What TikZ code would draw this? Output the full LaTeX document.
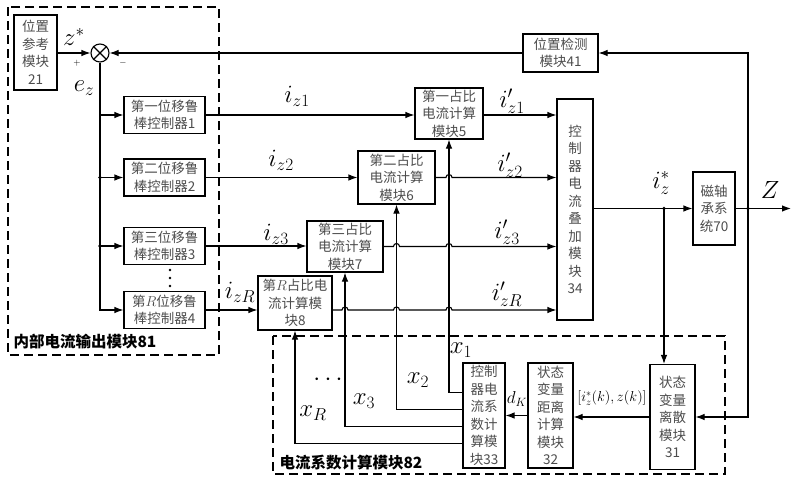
\documentclass[tikz,border=0pt]{standalone}
\usepackage{fontspec}
\newfontfamily\cjk{Noto Sans CJK SC}
\usetikzlibrary{positioning,
                arrows.meta}                % arrow tips

\tikzset{
  blk/.style={draw, line width=1.1pt, inner sep=0pt, align=center, text=black!70,
              font=\cjk\fontsize{13.5}{17.5}\selectfont},
  arr/.style={line width=1.1pt, -{Latex[length=9pt,width=6.5pt]}},
  lnk/.style={line width=1.1pt},
  lbl/.style={font=\fontsize{23}{23}\selectfont},
  frame/.style={line width=1.6pt, dash pattern=on 9pt off 5pt},
  frametitle/.style={anchor=west, font=\cjk\bfseries\fontsize{15.5}{16}\selectfont},
}

\begin{document}
\begin{tikzpicture}[x=1pt, y=-1pt]
  \useasboundingbox (0,0) rectangle (800,482);

  % dashed groups
  \draw[frame] (8,7) rectangle (219,355);
  \draw[frame] (273,336) rectangle (725,474);
  \node[frametitle] (t81) at (10,342) {内部电流输出模块81};
  \node[frametitle] (t82) at (276,463) {电流系数计算模块82};

  % reference and comparison
  \node[blk, minimum width=43pt, minimum height=75pt] (ref21) at (35.5,52.5) {位置\\参考\\模块\\21};
  \node[draw, circle, line width=1.1pt, minimum size=18pt, inner sep=0pt] (sum) at (100,53) {};
  \draw[lnk] (sum.north west) -- (sum.south east) (sum.north east) -- (sum.south west);
  \draw[arr] (ref21.east |- sum) -- (sum.west);
  \node[lbl] (zs) at (74,37) {$z^*$};
  \node[font=\small] (plus) at (77,63) {$+$};
  \node[font=\small] (minus) at (123,63) {$-$};
  \node[lbl] (ez) at (84,88) {$e_z$};

  % displacement controllers
  \node[blk, minimum width=81pt, minimum height=37pt] (ctrl1) at (164.5,115) {第一位移鲁\\棒控制器1};
  \node[blk, minimum width=81pt, minimum height=37pt] (ctrl2) at (164.5,177.5) {第二位移鲁\\棒控制器2};
  \node[blk, minimum width=81pt, minimum height=37pt] (ctrl3) at (164.5,246) {第三位移鲁\\棒控制器3};
  \node[blk, minimum width=81pt, minimum height=37pt] (ctrlR) at (164.5,310) {第$R$位移鲁\\棒控制器4};
  \foreach \y in {270,278,286}
    \fill (170,\y) circle (1.4pt);

  \draw[arr] (sum.south) |- (ctrlR.west);
  \draw[arr] (sum.south |- ctrl1.west) -- (ctrl1.west);
  \draw[arr] (sum.south |- ctrl2.west) -- (ctrl2.west);
  \draw[arr] (sum.south |- ctrl3.west) -- (ctrl3.west);
  \fill (sum.south |- ctrl2.west) circle (1.8pt);
  \fill (sum.south |- ctrl3.west) circle (1.8pt);

  % duty ratio current blocks
  \node[blk, minimum width=68pt, minimum height=51pt] (blk5) at (449,113.5) {第一占比\\电流计算\\模块5};
  \node[blk, minimum width=77pt, minimum height=53pt] (blk6) at (396.5,177.5) {第二占比\\电流计算\\模块6};
  \node[blk, minimum width=76pt, minimum height=51pt] (blk7) at (345,246.5) {第三占比\\电流计算\\模块7};
  \node[blk, minimum width=74pt, minimum height=54pt] (blk8) at (295,303) {第$R$占比电\\流计算模\\块8};

  \draw[arr] (ctrl1.east) -- (ctrl1.east -| blk5.west);
  \draw[arr] (ctrl2.east) -- (ctrl2.east -| blk6.west);
  \draw[arr] (ctrl3.east) -- (ctrl3.east -| blk7.west);
  \draw[arr] (ctrlR.east) -- (ctrlR.east -| blk8.west);
  \node[lbl] (iz1) at (297,96) {$i_{z1}$};
  \node[lbl] (iz2) at (281,160) {$i_{z2}$};
  \node[lbl] (iz3) at (276,234) {$i_{z3}$};
  \node[lbl] (izR) at (240,292) {$i_{zR}$};

  % superposition block
  \node[blk, minimum width=36pt, minimum height=221pt] (b34) at (575,209.5) {控\\制\\器\\电\\流\\叠\\加\\模\\块\\34};

  \draw[arr] (blk5.east |- ctrl1) -- (b34.west |- ctrl1);
  \draw[arr] (blk6.east) -- ([xshift=-3pt]blk5.south |- blk6.east) arc[start angle=180, end angle=0, radius=3pt]
             -- (b34.west |- blk6.east);
  \draw[arr] (blk7.east) -- ([xshift=-3pt]blk6.south |- blk7.east) arc[start angle=180, end angle=0, radius=3pt]
             -- ([xshift=-3pt]blk5.south |- blk7.east) arc[start angle=180, end angle=0, radius=3pt]
             -- (b34.west |- blk7.east);
  \draw[arr] (blk8.east |- ctrlR) -- ([xshift=-3pt]blk7.south |- ctrlR) arc[start angle=180, end angle=0, radius=3pt]
             -- ([xshift=-3pt]blk6.south |- ctrlR) arc[start angle=180, end angle=0, radius=3pt]
             -- ([xshift=-3pt]blk5.south |- ctrlR) arc[start angle=180, end angle=0, radius=3pt]
             -- (b34.west |- ctrlR);
  \node[lbl] (ip1) at (512,101) {$i'_{z1}$};
  \node[lbl] (ip2) at (510,165) {$i'_{z2}$};
  \node[lbl] (ip3) at (507,232) {$i'_{z3}$};
  \node[lbl] (ipR) at (507,294) {$i'_{zR}$};

  % plant and position feedback
  \node[blk, minimum width=42pt, minimum height=73pt] (b70) at (714,208.5) {磁轴\\承系\\统70};
  \node[blk, minimum width=75pt, minimum height=38pt] (b41) at (560.5,53) {位置检测\\模块41};
  \coordinate (tap) at (664,208.5);
  \coordinate (zb) at (748,208.5);
  \coordinate (zout) at (791,208.5);

  \draw[arr] (b34.east |- b70.west) -- (b70.west);
  \draw[arr] (b70.east) -- (zout);
  \draw[arr] (zb) |- (b41.east);
  \draw[arr] (b41.west) -- (sum.east);
  \fill (tap) circle (1.8pt);
  \fill (zb) circle (1.8pt);
  \node[lbl] (izs) at (661,183) {$i_z^*$};
  \node[lbl] (zz) at (770,190) {$Z$};

  % coefficient calculation
  \node[blk, minimum width=45pt, minimum height=105pt] (b31) at (672.5,417) {状态\\变量\\离散\\模块\\31};
  \node[blk, minimum width=45pt, minimum height=105pt] (b32) at (550.5,415.5) {状态\\变量\\距离\\计算\\模块\\32};
  \node[blk, minimum width=42pt, minimum height=105pt] (b33) at (484,415.5) {控制\\器电\\流系\\数计\\算模\\块33};

  \draw[arr] (tap) -- (tap |- b31.north);
  \draw[arr] (zb) |- (b31.east);
  \draw[arr] (b31.west) -- (b31.west -| b32.east);
  \draw[arr] (b32.west) -- (b32.west -| b33.east);
  \node[font=\fontsize{14}{14}\selectfont] (st) at (612,398) {$\bigl[i_z^*(k),z(k)\bigr]$};
  \node[font=\fontsize{17}{17}\selectfont] (dk) at (517,399) {$d_K$};

  \draw[arr] ([yshift=23pt]b33.west) -| (blk5.south);
  \draw[arr] ([yshift=6pt]b33.west) -| (blk6.south);
  \draw[arr] ([yshift=-11pt]b33.west) -| (blk7.south);
  \draw[arr] ([yshift=-28pt]b33.west) -| (blk8.south);
  \node[lbl] (x1) at (461,350) {$x_1$};
  \node[lbl] (x2) at (418,380) {$x_2$};
  \node[lbl] (x3) at (364,401) {$x_3$};
  \node[lbl] (xR) at (313,413) {$x_R$};
  \node[lbl] (xd) at (328,380) {$\cdots$};
\end{tikzpicture}
\end{document}
